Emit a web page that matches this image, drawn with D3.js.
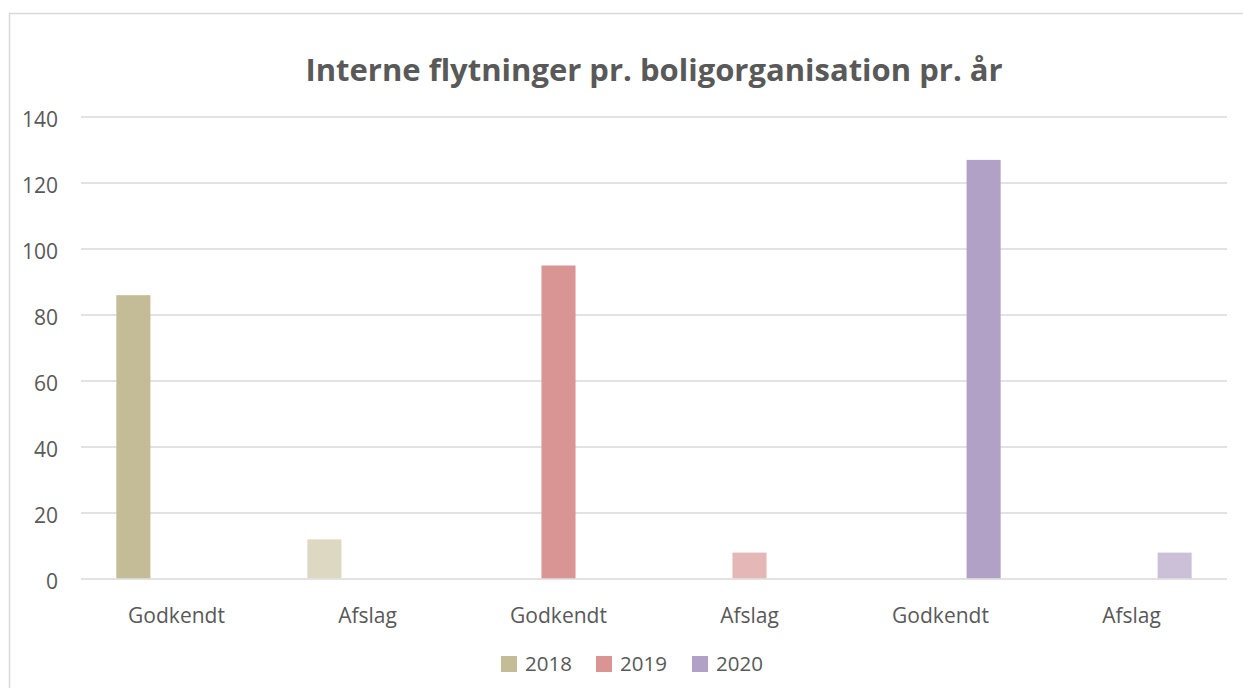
<!DOCTYPE html>
<html>
<head>
<meta charset="utf-8">
<script src="https://cdn.jsdelivr.net/npm/d3@7"></script>
<style>
  body { margin: 0; background: #fff; }
  svg { display: block; font-family: "Open Sans", sans-serif; }
</style>
</head>
<body>
<svg id="chart" width="1243" height="688"></svg>
<script>
const title = "Interne flytninger pr. boligorganisation pr. år";
const categories = ["Godkendt", "Afslag", "Godkendt", "Afslag", "Godkendt", "Afslag"];
const years = ["2018", "2019", "2020"];
const values2018 = [86, 12, null, null, null, null];
const values2019 = [null, null, 95, 8, null, null];
const values2020 = [null, null, null, null, 127, 8];
const yTicks = [0, 20, 40, 60, 80, 100, 120, 140];

const seriesValues = [values2018, values2019, values2020];
const colors = ["#c4bc96", "#d99594", "#b2a1c7"];
const lightColors = ["#ddd8c1", "#e5b8b7", "#ccc0d9"];

const width = 1243;
const height = 688;
const margin = { top: 117, right: 16, bottom: 109, left: 81 };

const svg = d3.select("#chart");

// chart frame
svg.append("rect")
  .attr("x", 9.5).attr("y", 13.5)
  .attr("width", 1250).attr("height", 700)
  .attr("fill", "none")
  .attr("stroke", "#d9d9d9")
  .attr("stroke-width", 1.5);

svg.append("text")
  .attr("x", 654)
  .attr("y", 81)
  .attr("text-anchor", "middle")
  .attr("font-size", 31)
  .attr("font-weight", "bold")
  .attr("fill", "#595959")
  .text(title);

const x0 = d3.scaleBand()
  .domain(d3.range(categories.length))
  .range([margin.left, width - margin.right])
  .padding(0);

const x1 = d3.scaleBand()
  .domain(years)
  .range([0, x0.bandwidth()])
  .paddingInner(0.21)
  .paddingOuter(0.82);

const y = d3.scaleLinear()
  .domain([0, 140])
  .range([height - margin.bottom, margin.top]);

// gridlines
svg.append("g")
  .selectAll("line")
  .data(yTicks)
  .join("line")
  .attr("x1", margin.left)
  .attr("x2", width - margin.right)
  .attr("y1", (d) => y(d))
  .attr("y2", (d) => y(d))
  .attr("stroke", "#d9d9d9")
  .attr("stroke-width", 1.5);

// y labels
svg.append("g")
  .attr("text-anchor", "end")
  .attr("fill", "#595959")
  .attr("font-size", 21)
  .selectAll("text")
  .data(yTicks)
  .join("text")
  .attr("x", 58)
  .attr("y", (d) => y(d) + 3)
  .attr("dy", "0.35em")
  .text((d) => d);

// bars
const bars = [];
seriesValues.forEach((vals, s) => {
  vals.forEach((v, c) => {
    if (v != null) bars.push({ s, c, v });
  });
});

svg.append("g")
  .selectAll("rect")
  .data(bars)
  .join("rect")
  .attr("x", (d) => x0(d.c) + x1(years[d.s]))
  .attr("width", x1.bandwidth())
  .attr("y", (d) => y(d.v))
  .attr("height", (d) => y(0) - y(d.v) - 0.75)
  .attr("fill", (d) => categories[d.c] === "Afslag" ? lightColors[d.s] : colors[d.s]);

// category labels
svg.append("g")
  .attr("text-anchor", "middle")
  .attr("fill", "#595959")
  .attr("font-size", 21)
  .selectAll("text")
  .data(categories)
  .join("text")
  .attr("x", (d, i) => x0(i) + x0.bandwidth() / 2)
  .attr("y", 616)
  .attr("dy", "0.35em")
  .text((d) => d);

// legend
const legendX = [501, 596, 692];
const legend = svg.append("g")
  .selectAll("g")
  .data(years)
  .join("g")
  .attr("transform", (d, i) => `translate(${legendX[i]}, 664)`);

legend.append("rect")
  .attr("x", 0).attr("y", -8)
  .attr("width", 16).attr("height", 16)
  .attr("fill", (d, i) => colors[i]);

legend.append("text")
  .attr("x", 24)
  .attr("dy", "0.35em")
  .attr("font-size", 20.5)
  .attr("fill", "#595959")
  .text((d) => d);
</script>
</body>
</html>
